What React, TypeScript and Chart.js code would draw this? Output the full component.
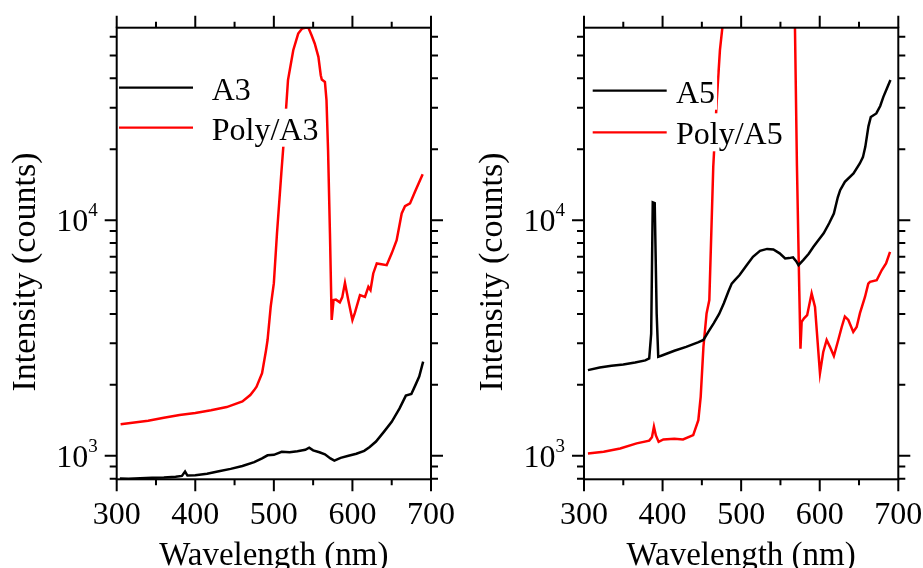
import React, { useEffect, useRef } from 'react';
import { Chart, registerables } from 'chart.js';

Chart.register(...registerables);

// ---------------- data ----------------
const wavelengthA3 = [304, 315, 330, 345, 360, 375, 383, 387, 390, 400, 415, 430, 445, 460, 475, 485, 492, 500, 510, 520, 530, 540, 545, 550, 558, 565, 572, 577, 585, 595, 605, 615, 622, 630, 640, 650, 660, 668, 675, 680, 685, 690];
const countsA3 = [802, 800, 804, 808, 810, 815, 822, 858, 825, 828, 840, 860, 880, 905, 940, 975, 1005, 1010, 1040, 1035, 1045, 1060, 1082, 1055, 1035, 1015, 975, 955, 980, 1000, 1020, 1050, 1090, 1150, 1264, 1393, 1589, 1800, 1830, 1990, 2170, 2510];

const wavelengthPolyA3 = [305, 320, 340, 360, 380, 400, 420, 440, 460, 470, 475, 478, 485, 490, 492, 496, 500, 504, 509.5, 514, 518, 524.7, 531, 536, 540, 544, 548, 552, 556.7, 559.7, 561, 565, 567, 569, 571.4, 573.6, 576, 579, 584, 587, 590.5, 594.7, 600, 603, 609.6, 616, 620.3, 623, 626.5, 631, 637, 643.6, 650, 656.3, 662.7, 666.9, 673.3, 679.6, 689.4];
const countsPolyA3 = [1360, 1380, 1410, 1450, 1490, 1520, 1560, 1610, 1700, 1811, 1900, 1965, 2240, 2800, 3100, 4300, 5400, 8800, 15800, 24900, 39300, 52600, 61900, 65000, 65535, 65535, 60900, 56200, 49300, 41200, 39500, 38600, 32300, 19800, 8790, 3770, 4580, 4600, 4480, 4700, 5420, 4580, 3770, 4030, 4810, 4720, 5210, 5050, 5940, 6550, 6500, 6440, 7230, 8220, 10670, 11460, 11770, 13190, 15670];

const wavelengthA5 = [305, 320, 335, 350, 365, 378, 383, 385.5, 387.5, 390, 392.5, 394.5, 400, 415, 430, 445, 452, 458, 465, 472, 478, 484, 488, 492, 498, 507, 515, 524, 533, 541, 549, 556, 561, 566, 570, 573, 579, 586, 592, 598, 605, 612, 618, 623, 626, 632, 643, 651, 655, 658, 662, 665, 672, 677, 681, 686, 690];
const countsA5 = [2310, 2370, 2410, 2440, 2490, 2540, 2590, 3300, 11900, 11800, 4000, 2630, 2670, 2790, 2900, 3030, 3100, 3350, 3650, 4000, 4440, 5000, 5380, 5560, 5850, 6440, 6990, 7410, 7550, 7510, 7230, 6880, 6900, 6950, 6700, 6440, 6770, 7200, 7710, 8200, 8790, 9700, 10670, 12500, 13400, 14540, 15780, 17400, 18500, 20460, 25000, 27400, 28360, 30500, 33350, 36500, 39300];

const wavelengthPolyA5 = [305, 325, 346, 367, 383, 386.5, 389, 391.5, 395, 401, 415, 426, 439, 445.5, 448.5, 452, 456, 459.5, 464.5, 469, 473, 477, 485, 500, 520, 540, 555, 565, 568.5, 571, 574, 575.5, 577, 580, 584, 589.7, 594, 600.3, 604.5, 608.8, 613, 618, 623.6, 628, 632, 636.4, 642.7, 647, 651.2, 657.6, 661.8, 664, 672.5, 679, 684.4, 689.5];
const countsPolyA5 = [1024, 1040, 1075, 1129, 1160, 1200, 1330, 1220, 1146, 1174, 1180, 1174, 1224, 1416, 1780, 2900, 4020, 4580, 16800, 32300, 52600, 70000, 110000, 180000, 220000, 220000, 180000, 110000, 65000, 17000, 5000, 2850, 3700, 3830, 3950, 4890, 4284, 2240, 2760, 3100, 2900, 2650, 3100, 3520, 3900, 3770, 3357, 3520, 4030, 4720, 5380, 5470, 5560, 6140, 6550, 7340];

const xMajorTicks = [300, 400, 500, 600, 700];
const xMinorTicks = [350, 450, 550, 650];
const xTickLabels = ['300', '400', '500', '600', '700'];
const yMajorTicks = [1000, 10000];
const yTickExponents = ['3', '4'];
const yMinorTicks = [800, 900, 2000, 3000, 4000, 5000, 6000, 7000, 8000, 9000, 20000, 30000, 40000, 50000, 60000];

const xMin = 300;
const xMax = 700;
const yMin = 795;
const yMax = 65535;

const xTitle = 'Wavelength (nm)';
const yTitle = 'Intensity (counts)';

// ---------------- helpers ----------------
const FONT = '"Liberation Serif", "Times New Roman", serif';

function toPoints(xs: number[], ys: number[]) {
  return xs.map((x, i) => ({ x, y: ys[i] }));
}

type LegendCfg = { lineStart: number; lineEnd: number; textStart: number; rows: number[] };

function makeDecor(legend: LegendCfg) {
  return {
    id: 'decor',
    afterDraw(chart: any) {
      const { ctx, chartArea: a } = chart;
      const x = chart.scales.x;
      const y = chart.scales.y;
      ctx.save();
      ctx.strokeStyle = '#000';
      ctx.fillStyle = '#000';
      ctx.lineWidth = 2;
      ctx.lineCap = 'butt';
      // frame
      ctx.strokeRect(a.left, a.top, a.right - a.left, a.bottom - a.top);
      // ticks
      ctx.beginPath();
      const xt = (v: number, len: number) => {
        const px = x.getPixelForValue(v);
        ctx.moveTo(px, a.bottom);
        ctx.lineTo(px, a.bottom + len);
        ctx.moveTo(px, a.top);
        ctx.lineTo(px, a.top - len);
      };
      const yt = (v: number, len: number) => {
        const py = y.getPixelForValue(v);
        ctx.moveTo(a.left, py);
        ctx.lineTo(a.left - len, py);
        ctx.moveTo(a.right, py);
        ctx.lineTo(a.right + len, py);
      };
      xMajorTicks.forEach((v) => xt(v, 12));
      xMinorTicks.forEach((v) => xt(v, 6));
      yMajorTicks.forEach((v) => yt(v, 12));
      yMinorTicks.forEach((v) => yt(v, 7));
      ctx.stroke();

      // x tick labels
      ctx.font = `32px ${FONT}`;
      ctx.textAlign = 'center';
      ctx.textBaseline = 'alphabetic';
      xMajorTicks.forEach((v, i) => {
        ctx.fillText(xTickLabels[i], x.getPixelForValue(v), a.bottom + 45);
      });
      // x title
      ctx.font = `33px ${FONT}`;
      ctx.fillText(xTitle, (a.left + a.right) / 2, 565);

      // y tick labels 10^n
      yMajorTicks.forEach((v, i) => {
        const py = y.getPixelForValue(v);
        ctx.font = `19px ${FONT}`;
        ctx.textAlign = 'right';
        const supRight = a.left - 19;
        ctx.fillText(yTickExponents[i], supRight, py - 4);
        const supW = ctx.measureText(yTickExponents[i]).width;
        ctx.font = `32px ${FONT}`;
        ctx.fillText('10', supRight - supW, py + 11);
      });

      // y title
      ctx.save();
      ctx.translate(a.left - 82, 272);
      ctx.rotate(-Math.PI / 2);
      ctx.font = `34px ${FONT}`;
      ctx.textAlign = 'center';
      ctx.textBaseline = 'alphabetic';
      ctx.fillText(yTitle, 0, 0);
      ctx.restore();

      // legend
      ctx.font = `32px ${FONT}`;
      ctx.textAlign = 'left';
      chart.data.datasets.forEach((ds: any, i: number) => {
        const ry = legend.rows[i];
        const tx = a.left + legend.textStart;
        const w = ctx.measureText(ds.label).width;
        ctx.fillStyle = '#fff';
        ctx.fillRect(tx - 2, ry - 19, w + 4, 38);
        ctx.strokeStyle = ds.borderColor;
        ctx.lineWidth = 2.2;
        ctx.beginPath();
        ctx.moveTo(a.left + legend.lineStart, ry);
        ctx.lineTo(a.left + legend.lineEnd, ry);
        ctx.stroke();
        ctx.fillStyle = '#000';
        ctx.fillText(ds.label, tx, ry + 12);
      });
      ctx.restore();
    },
  };
}

type PanelProps = {
  left: number;
  width: number;
  padding: { left: number; right: number; top: number; bottom: number };
  series: { label: string; color: string; xs: number[]; ys: number[] }[];
  legend: LegendCfg;
};

function Panel({ left, width, padding, series, legend }: PanelProps) {
  const ref = useRef<HTMLCanvasElement>(null);
  useEffect(() => {
    if (!ref.current) return;
    const chart = new Chart(ref.current, {
      type: 'line',
      data: {
        datasets: series.map((s) => ({
          label: s.label,
          data: toPoints(s.xs, s.ys),
          borderColor: s.color,
          backgroundColor: s.color,
          borderWidth: 2.5,
          pointRadius: 0,
          tension: 0,
          fill: false,
        })),
      },
      options: {
        responsive: false,
        animation: false,
        events: [],
        layout: { padding },
        plugins: { legend: { display: false }, tooltip: { enabled: false } },
        scales: {
          x: { type: 'linear', min: xMin, max: xMax, display: false },
          y: { type: 'logarithmic', min: yMin, max: yMax, display: false },
        },
      },
      plugins: [makeDecor(legend)],
    } as any);
    return () => chart.destroy();
  }, []);
  return (
    <canvas
      ref={ref}
      width={width}
      height={568}
      style={{ position: 'absolute', left, top: 0, width, height: 568 }}
    />
  );
}

export default function App() {
  return (
    <div style={{ position: 'absolute', left: 0, top: 0, width: 923, height: 568, background: '#fff', overflow: 'hidden' }}>
      <Panel
        left={0}
        width={461}
        padding={{ left: 116.7, right: 30, top: 27.7, bottom: 88.7 }}
        series={[
          { label: 'A3', color: '#000000', xs: wavelengthA3, ys: countsA3 },
          { label: 'Poly/A3', color: '#ff0000', xs: wavelengthPolyA3, ys: countsPolyA3 },
        ]}
        legend={{ lineStart: 2.3, lineEnd: 76.3, textStart: 95, rows: [87.7, 127.7] }}
      />
      <Panel
        left={461}
        width={462}
        padding={{ left: 123, right: 24.7, top: 27.7, bottom: 88.7 }}
        series={[
          { label: 'A5', color: '#000000', xs: wavelengthA5, ys: countsA5 },
          { label: 'Poly/A5', color: '#ff0000', xs: wavelengthPolyA5, ys: countsPolyA5 },
        ]}
        legend={{ lineStart: 8.7, lineEnd: 82.7, textStart: 92, rows: [90.7, 132.3] }}
      />
    </div>
  );
}
